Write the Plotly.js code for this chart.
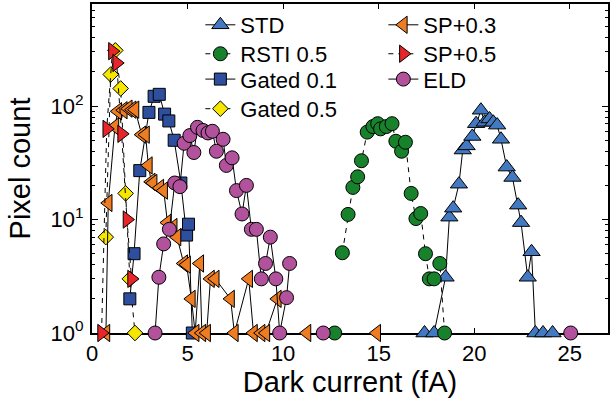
<!DOCTYPE html>
<html>
<head>
<meta charset="utf-8">
<script src="https://cdn.plot.ly/plotly-3.0.1.min.js"></script>
<style>html,body{margin:0;padding:0;background:#fff;}#chart{width:616px;height:401px;}</style>
</head>
<body>
<div id="chart"></div>
<script>
// ---- data ----
var seriesNames = ['STD', 'RSTI 0.5', 'Gated 0.1', 'Gated 0.5', 'SP+0.3', 'SP+0.5', 'ELD'];

var stdX = [17.4, 17.9, 18.5, 18.7, 18.9, 19.2, 19.4, 19.6, 19.9, 20.1, 20.35, 20.55, 20.8, 21.0, 21.2, 21.4, 21.7, 22.0, 22.3, 22.45, 22.8, 23.0, 23.2, 23.6, 24.1];
var stdY = [1, 1, 3.1, 10.5, 12.6, 20.5, 41, 44.6, 54, 70, 92, 72, 77, 72, 68, 51, 29, 23.5, 13.4, 9.4, 3.1, 5.2, 1, 1, 1];

var rstiX = [12.7, null, 13.1, 13.4, 13.65, 13.9, 14.1, 14.4, 14.7, 14.95, 15.1, 15.4, 15.7, 15.9, 16.2, 16.4, 16.7, 16.95, 17.2, 17.45, 17.65, 17.9, 18.2, 18.45];
var rstiY = [1, null, 5.1, 11.1, 19.2, 23.8, 33, 59, 66, 70, 63, 66, 70, 49, 40, 48, 17, 10.2, 11.3, 5.0, 3.0, 3.0, 4.1, 1];

var gated01X = [1.98, 2.2, 2.5, 2.98, 3.25, 3.52, 3.8, 4.02, 4.3, 4.65, 4.95, 5.05, 5.25];
var gated01Y = [2.0, 5.0, 27, 88, 122, 127, 85, 74, 50, 21, 7.3, 9.1, 1];

var gated05X = [0.72, 0.98, 1.22, 1.5, 1.76, 1.98, 2.25];
var gated05Y = [7, 190, 310, 143, 17, 3.0, 1];

var sp03X = [0.73, 0.85, 1.2, 1.35, 1.64, 1.9, 2.1, 2.25, 2.6, 2.8, 2.95, 3.1, 3.2, 3.55, 3.75, 3.95, 4.25, 4.45, 4.8, 4.95, 5.2, 5.4, 5.64, 5.75, 6.0, 6.2, 6.45, 7.25, 7.45, 8.2, 8.45, 8.85, 9.1, 9.7, null, 11.25, null, 14.9];
var sp03Y = [1, 14, 66, 90, 92, 95, 93, 93, 56, 56, 30, 21.5, 21, 19, 18, 9.4, 8.6, 7, 4.1, 4.0, 2, 1, 4.1, 1, 1, 3, 3, 2, 1, 3, 1, 1, 1, 2, null, 1, null, 1];

var sp05X = [0.5, 0.77, 1.07, 1.29, 1.55, 1.83, 2.07];
var sp05Y = [1, 63, 305, 240, 57, 10, 3.0];

var eldX = [3.3, 3.5, 3.75, 4.05, 4.33, 4.6, 4.82, 5.12, 5.33, 5.52, 5.81, 6.07, 6.3, 6.51, 6.86, 7.03, 7.33, 7.56, 7.85, 8.08, 8.34, 8.6, 8.86, 9.08, 9.33, 9.62, 9.82, 10.18, 10.34, null, 12.1, null, 25.05];
var eldY = [1, 3.1, 6.1, 8.2, 21, 19.5, 47, 55, 39, 65, 61, 58, 60, 40, 51, 30, 35, 18, 11.2, 20, 8.2, 8.2, 3.0, 4.1, 7.0, 3.0, 1, 2.05, 4.1, null, 1, null, 1];

var xTickVals = [0, 5, 10, 15, 20, 25];
var yTickVals = [1, 10, 100];
var yTickText = ['10<sup>0</sup>', '10<sup>1</sup>', '10<sup>2</sup>'];
var yMinorVals = [2, 3, 4, 5, 6, 7, 8, 9, 20, 30, 40, 50, 60, 70, 80, 90, 200, 300, 400, 500, 600, 700];

// ---- styles ----
function tr(name, x, y, symbol, color, size, dash, legend, rank) {
  return {
    type: 'scatter', mode: 'lines+markers', name: name, x: x, y: y,
    connectgaps: false, cliponaxis: false,
    line: {color: '#000', width: 1, dash: dash},
    marker: {symbol: symbol, color: color, size: size, line: {color: '#000', width: 1}},
    legend: legend, legendrank: rank
  };
}

var data = [
  tr(seriesNames[0], stdX, stdY, 'triangle-up', '#4279c0', 15, 'solid', 'legend', 1),
  tr(seriesNames[1], rstiX, rstiY, 'circle', '#17822b', 14, '5px,5px', 'legend2', 1),
  tr(seriesNames[3], gated05X, gated05Y, 'diamond', '#f6e600', 12, '5px,5px', 'legend4', 1),
  tr(seriesNames[2], gated01X, gated01Y, 'square', '#2e4e9e', 12, 'solid', 'legend3', 1),
  tr(seriesNames[4], sp03X, sp03Y, 'triangle-left', '#ee7d22', 15, 'solid', 'legend', 2),
  tr(seriesNames[5], sp05X, sp05Y, 'triangle-right', '#e8262a', 15, '5px,5px', 'legend2', 2),
  tr(seriesNames[6], eldX, eldY, 'circle', '#b2519c', 14, 'solid', 'legend3', 2)
];

var font = 'Liberation Sans, Arial, sans-serif';
function leg(y) {
  return {
    x: 0.21, xanchor: 'left', y: y, yanchor: 'top',
    orientation: 'h', entrywidth: 138, entrywidthmode: 'pixels',
    bgcolor: 'rgba(0,0,0,0)', borderwidth: 0,
    font: {size: 22, family: font}, traceorder: 'normal'
  };
}

var layout = {
  width: 616, height: 401,
  margin: {l: 92, r: 8, t: 4, b: 68},
  paper_bgcolor: '#fff', plot_bgcolor: '#fff',
  font: {family: font, color: '#000', size: 22},
  showlegend: true,
  xaxis: {
    range: [0, 27], tickmode: 'array', tickvals: xTickVals,
    ticks: 'inside', ticklen: 5, tickwidth: 1, tickcolor: '#000',
    showline: true, linecolor: '#000', linewidth: 2, mirror: 'allticks',
    showgrid: false, zeroline: false, layer: 'below traces',
    tickfont: {size: 22, family: font},
    title: {text: 'Dark current (fA)', font: {size: 29, family: font}, standoff: 4},
    automargin: false
  },
  yaxis: {
    type: 'log', range: [0, 2.9],
    tickmode: 'array', tickvals: yTickVals, ticktext: yTickText,
    ticks: 'inside', ticklen: 6, tickwidth: 1, tickcolor: '#000',
    minor: {tickmode: 'array', tickvals: yMinorVals, ticks: 'inside', ticklen: 3, tickwidth: 1, tickcolor: '#000', showgrid: false},
    showline: true, linecolor: '#000', linewidth: 2, mirror: 'allticks',
    showgrid: false, zeroline: false, layer: 'below traces',
    tickfont: {size: 22, family: font},
    ticklabelstandoff: 2,
    title: {text: 'Pixel count', font: {size: 29, family: font}, standoff: 11},
    automargin: false
  },
  legend: leg(1.0),
  legend2: leg(0.912),
  legend3: leg(0.835),
  legend4: leg(0.745)
};

Plotly.newPlot('chart', data, layout, {displayModeBar: false, staticPlot: true});
</script>
</body>
</html>
